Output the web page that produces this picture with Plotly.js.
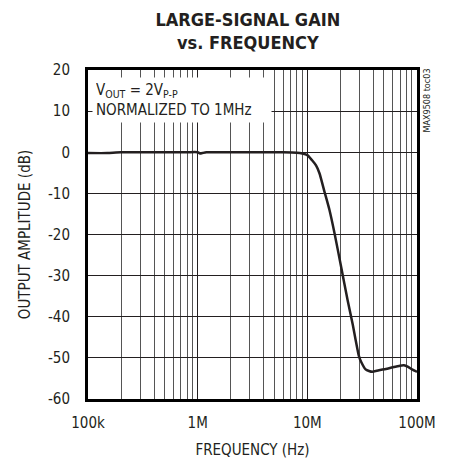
<!DOCTYPE html>
<html>
<head>
<meta charset="utf-8">
<script src="https://cdn.plot.ly/plotly-3.0.1.min.js"></script>
<style>html,body{margin:0;padding:0;background:#fff;}#chart{width:449px;height:461px;}</style>
</head>
<body>
<div id="chart"></div>
<script>
// Data
const freqHz = [1e5, 1.5e5, 1.8e5, 2e5, 3e5, 5e5, 8e5, 1e6, 1.05e6, 1.1e6, 1.2e6, 2e6, 4e6, 6e6, 8e6, 9e6, 1e7, 1.1e7, 1.2e7, 1.29e7, 1.43e7, 1.59e7, 1.77e7, 2.03e7, 2.33e7, 2.6e7, 2.76e7, 2.95e7, 3.1e7, 3.4e7, 3.65e7, 3.9e7, 4.5e7, 5.2e7, 6e7, 7e7, 7.6e7, 8.3e7, 9e7, 1e8];
const gainDb = [-0.2, -0.2, -0.05, 0, 0, 0, 0, 0, -0.3, -0.2, 0, 0, 0, 0, -0.1, -0.3, -0.7, -1.9, -3.2, -5.1, -9.5, -14, -19.7, -27.8, -36, -42, -45.7, -49.5, -51, -52.8, -53.2, -53.4, -53, -52.7, -52.3, -51.9, -51.8, -52.2, -52.8, -53.4];
const xTickVals = [1e5, 1e6, 1e7, 1e8];
const xTickText = ['100k', '1M', '10M', '100M'];
const yTickVals = [20, 10, 0, -10, -20, -30, -40, -50, -60];
const yTickText = ['20', '10', '0', '-10', '-20', '-30', '-40', '-50', '-60'];

const FONT = '"Liberation Sans Narrow", "DejaVu Sans Condensed", Arial, sans-serif';

const trace = {
  x: freqHz, y: gainDb, type: 'scatter', mode: 'lines',
  line: {color: '#231f20', width: 2.5, shape: 'spline', smoothing: 0.6},
  hoverinfo: 'skip'
};

const layout = {
  width: 449, height: 461,
  margin: {l: 88, r: 32, t: 70, b: 62},
  paper_bgcolor: '#fff', plot_bgcolor: '#fff',
  showlegend: false,
  font: {family: FONT, color: '#231f20', size: 15},
  title: {
    text: '<b>LARGE-SIGNAL GAIN<br>vs. FREQUENCY</b>',
    font: {family: FONT, size: 18, color: '#231f20'},
    xref: 'container', yref: 'container',
    x: 0.552, xanchor: 'center', y: 0.944, yanchor: 'bottom',
    automargin: false
  },
  xaxis: {
    type: 'log', range: [5, 8],
    tickmode: 'array', tickvals: xTickVals, ticktext: xTickText,
    ticks: '', ticklabelstandoff: 8,
    showgrid: true, gridcolor: '#231f20', gridwidth: 1,
    minor: {dtick: 'D1', showgrid: true, gridcolor: '#555', gridwidth: 1, ticks: ''},
    showline: true, linecolor: '#000', linewidth: 3, mirror: true,
    zeroline: false,
    tickfont: {family: FONT, size: 15, color: '#231f20'},
    title: {text: 'FREQUENCY (Hz)', font: {family: FONT, size: 15, color: '#231f20'}, standoff: 14}
  },
  yaxis: {
    range: [-60, 20], tickmode: 'array', tickvals: yTickVals, ticktext: yTickText,
    ticks: '', ticklabelstandoff: 12,
    showgrid: true, gridcolor: '#231f20', gridwidth: 1,
    showline: true, linecolor: '#000', linewidth: 3, mirror: true,
    zeroline: false,
    tickfont: {family: FONT, size: 15, color: '#231f20'},
    title: {text: 'OUTPUT AMPLITUDE (dB)', font: {family: FONT, size: 15, color: '#231f20'}, standoff: 14}
  },
  annotations: [
    {
      xref: 'paper', yref: 'paper', x: 0.012, y: 0.979, xanchor: 'left', yanchor: 'top',
      text: 'V<sub>OUT</sub> = 2V<sub>P-P</sub><br>NORMALIZED TO 1MHz',
      align: 'left', showarrow: false, bgcolor: '#fff', borderpad: 3,
      width: 172, font: {family: FONT, size: 15, color: '#231f20'}
    },
    {
      xref: 'paper', yref: 'paper', x: 1.03, y: 1.01, xanchor: 'center', yanchor: 'top',
      text: 'MAX9508 toc03', textangle: -90, showarrow: false,
      font: {family: FONT, size: 9, color: '#231f20'}
    }
  ]
};

Plotly.newPlot('chart', [trace], layout, {displayModeBar: false, staticPlot: true});
</script>
</body>
</html>
